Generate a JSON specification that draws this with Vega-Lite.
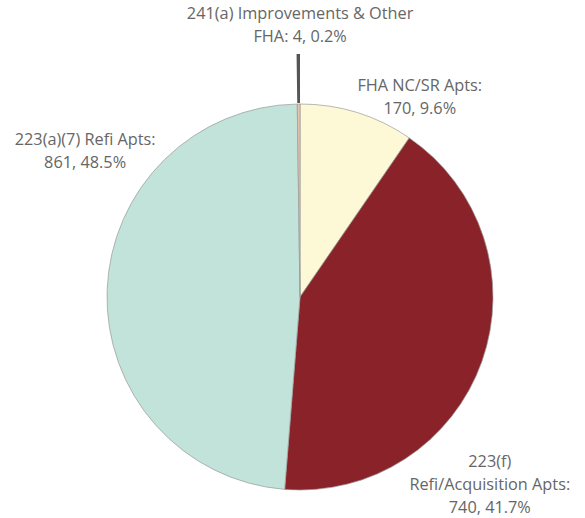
{
  "$schema": "https://vega.github.io/schema/vega-lite/v6.json",
  "width": 570,
  "height": 442,
  "autosize": "none",
  "padding": {"left": 15, "right": 0, "top": 76, "bottom": 0},
  "background": "white",
  "config": {"view": {"stroke": null}, "text": {"font": "Open Sans", "fontSize": 16.3, "color": "#666666", "lineBreak": "\n", "lineHeight": 23}},
  "data": {"values": [
    {"idx": 1, "name": "FHA NC/SR Apts", "count": 170, "label": "FHA NC/SR Apts:\n170, 9.6%"},
    {"idx": 2, "name": "223(f) Refi/Acquisition Apts", "count": 740, "label": "223(f)\nRefi/Acquisition Apts:\n740, 41.7%"},
    {"idx": 3, "name": "223(a)(7) Refi Apts", "count": 861, "label": "223(a)(7) Refi Apts:\n861, 48.5%"},
    {"idx": 4, "name": "241(a) Improvements & Other FHA", "count": 4, "label": "241(a) Improvements & Other\nFHA: 4, 0.2%"}
  ]},
  "encoding": {
    "theta": {"field": "count", "type": "quantitative", "stack": true},
    "order": {"field": "idx", "type": "quantitative"}
  },
  "layer": [
    {
      "mark": {"type": "arc", "outerRadius": 193, "stroke": "#9a9a9a", "strokeWidth": 0.7},
      "encoding": {
        "color": {"field": "name", "type": "nominal", "legend": null,
          "scale": {"domain": ["FHA NC/SR Apts", "223(f) Refi/Acquisition Apts", "223(a)(7) Refi Apts", "241(a) Improvements & Other FHA"],
                    "range": ["#fdf8d6", "#8a2329", "#c1e3d9", "#e8c3ae"]}}
      }
    },
    {
      "mark": {"type": "arc", "innerRadius": 194, "outerRadius": 243},
      "encoding": {
        "fill": {"condition": {"test": "datum.idx === 4", "value": "#555555"}, "value": "transparent"}
      }
    },
    {
      "mark": {"type": "text", "radius": 270, "dx": 2, "dy": -13},
      "encoding": {"text": {"condition": {"test": "datum.idx === 4", "field": "label"}, "value": ""}}
    },
    {
      "mark": {"type": "text", "radius": 232, "dx": 51, "dy": 11},
      "encoding": {"text": {"condition": {"test": "datum.idx === 1", "field": "label"}, "value": ""}}
    },
    {
      "mark": {"type": "text", "radius": 230, "dx": -27, "dy": 88},
      "encoding": {"text": {"condition": {"test": "datum.idx === 2", "field": "label"}, "value": ""}}
    },
    {
      "mark": {"type": "text", "radius": 230, "dx": 15, "dy": -149},
      "encoding": {"text": {"condition": {"test": "datum.idx === 3", "field": "label"}, "value": ""}}
    }
  ]
}
